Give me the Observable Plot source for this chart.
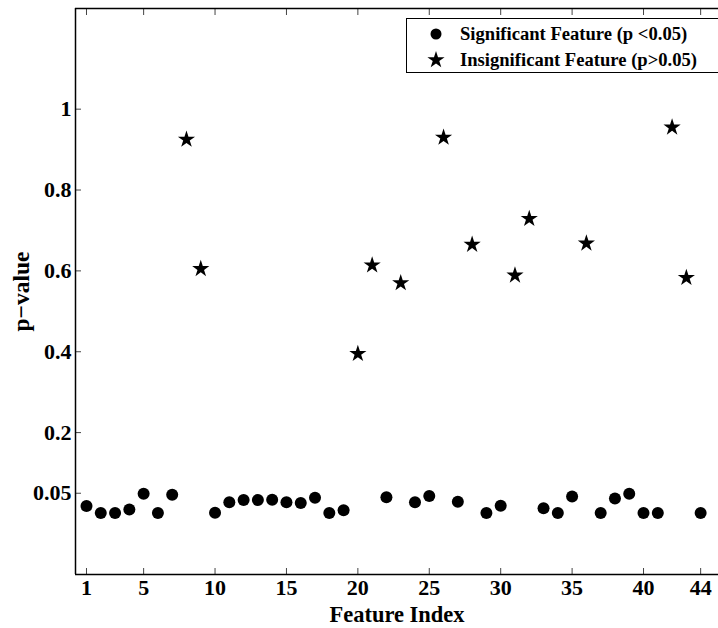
<!DOCTYPE html>
<html>
<head>
<meta charset="utf-8">
<script src="https://cdn.jsdelivr.net/npm/d3@7"></script>
<script src="https://cdn.jsdelivr.net/npm/@observablehq/plot@0.6"></script>
<style>
  body { margin: 0; background: #fff; }
  #wrap { position: relative; width: 718px; height: 628px; overflow: hidden; font-family: "Liberation Serif", "Times New Roman", serif; }
  #legend { position: absolute; left: 406px; top: 18px; width: 314px; height: 55px; border: 1.6px solid #000; background: #fff; box-sizing: border-box; }
  #legend .row { position: absolute; left: 0; height: 26px; display: flex; align-items: center; white-space: nowrap; }
  #legend svg { margin-left: 19px; margin-right: 14px; }
  #legend span { font-weight: bold; font-size: 18.6px; color: #000; }
</style>
</head>
<body>
<div id="wrap"></div>
<script>
// Data
const sigIndex = [1,2,3,4,5,6,7,10,11,12,13,14,15,16,17,18,19,22,24,25,27,29,30,33,34,35,37,38,39,40,41,44];
const sigP     = [0.0185,0.001,0.001,0.010,0.049,0.001,0.046,0.002,0.028,0.033,0.033,0.034,0.028,0.026,0.039,0.001,0.008,0.040,0.028,0.043,0.029,0.001,0.019,0.013,0.001,0.042,0.001,0.037,0.049,0.001,0.001,0.001];
const insigIndex = [8,9,20,21,23,26,28,31,32,36,42,43];
const insigP     = [0.925,0.605,0.395,0.614,0.570,0.930,0.665,0.589,0.729,0.668,0.955,0.583];
const xTicks = [1,5,10,15,20,25,30,35,40,44];
const yTicks = [0.05,0.2,0.4,0.6,0.8,1];
const xDomain = [0.23, 45.25];
const yDomain = [-0.151, 1.249];
const legendLabels = ["Significant Feature (p <0.05)", "Insignificant Feature (p>0.05)"];
const xLabel = "Feature Index";
const yLabel = "p\u2212value";

const sig = sigIndex.map((x, i) => ({x, p: sigP[i]}));
const insig = insigIndex.map((x, i) => ({x, p: insigP[i]}));

const font = {fontFamily: "Liberation Serif, Times New Roman, serif", fontWeight: "bold"};

const chart = Plot.plot({
  width: 718,
  height: 628,
  marginLeft: 75,
  marginRight: 0,
  marginTop: 8,
  marginBottom: 54,
  style: {fontFamily: "Liberation Serif, Times New Roman, serif", fontWeight: "bold", fontSize: "22px", background: "#fff", color: "#000"},
  x: {domain: xDomain},
  y: {domain: yDomain},
  marks: [
    Plot.axisX({ticks: xTicks, anchor: "bottom", tickSize: -6, tickPadding: 11, stroke: "#444", fontSize: 22, fontWeight: "bold", label: null, tickFormat: d => String(d)}),
    Plot.axisX({ticks: xTicks, anchor: "top", tickSize: -6, stroke: "#444", tickFormat: () => "", label: null}),
    Plot.axisY({ticks: yTicks, anchor: "left", tickSize: -6, tickPadding: 10, stroke: "#444", fontSize: 22, fontWeight: "bold", label: null, tickFormat: d => String(d)}),
    Plot.ruleY([yDomain[1]], {stroke: "#000", strokeWidth: 1.5}),
    Plot.ruleY([yDomain[0]], {stroke: "#000", strokeWidth: 1.5}),
    Plot.ruleX([xDomain[0]], {stroke: "#000", strokeWidth: 1.5}),
    Plot.dot(sig, {x: "x", y: "p", r: 6, fill: "#000", stroke: "none", symbol: "circle"}),
    Plot.dot(insig, {x: "x", y: "p", r: 5.4, fill: "#000", stroke: "none", symbol: "star"}),
    Plot.text([xLabel], {frameAnchor: "bottom", textAnchor: "middle", lineAnchor: "middle", dy: 40, text: d => d, fontSize: 22.5, ...font, fill: "#000"}),
    Plot.text([yLabel], {frameAnchor: "left", textAnchor: "middle", lineAnchor: "middle", dx: -54, rotate: -90, text: d => d, fontSize: 23.5, ...font, fill: "#000"})
  ]
});

const wrap = document.getElementById("wrap");
wrap.appendChild(chart);

// Legend
const legend = document.createElement("div");
legend.id = "legend";
const symbols = [d3.symbolCircle, d3.symbolStar];
const sizes = [Math.PI * 5.5 * 5.5, Math.PI * 5.4 * 5.4];
legendLabels.forEach((lab, i) => {
  const row = document.createElement("div");
  row.className = "row";
  row.style.top = (i === 0 ? 2 : 28) + "px";
  const s = d3.create("svg").attr("width", 20).attr("height", 20);
  s.append("path").attr("transform", "translate(10,10)").attr("d", d3.symbol(symbols[i], sizes[i])()).attr("fill", "#000");
  row.appendChild(s.node());
  const t = document.createElement("span");
  t.textContent = lab;
  row.appendChild(t);
  legend.appendChild(row);
});
wrap.appendChild(legend);
</script>
</body>
</html>
